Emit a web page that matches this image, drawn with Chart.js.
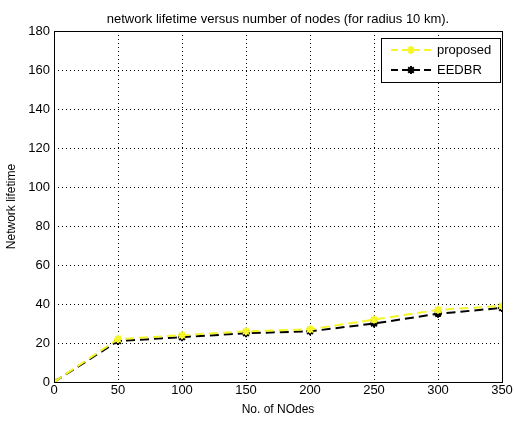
<!DOCTYPE html>
<html>
<head>
<meta charset="utf-8">
<script src="https://cdn.jsdelivr.net/npm/chart.js@4/dist/chart.umd.min.js"></script>
<style>
  html, body { margin: 0; padding: 0; background: #fff; }
  #wrap { width: 514px; height: 421px; }
</style>
</head>
<body>
<div id="wrap"><canvas id="myChart" width="514" height="421"></canvas></div>
<script>
const nodes = [0, 50, 100, 150, 200, 250, 300, 350];
const proposed = [0, 22, 24, 26, 27, 32, 37, 39];
const eedbr = [0, 21, 23, 25, 26, 30, 35, 38];
const xTicks = [0, 50, 100, 150, 200, 250, 300, 350];
const yTicks = [0, 20, 40, 60, 80, 100, 120, 140, 160, 180];
const titleText = 'network lifetime versus number of nodes (for radius 10 km).';
const FONT = '"Liberation Sans", Arial, sans-serif';

// frame, title and in-plot legend like MATLAB
const matlabBits = {
  id: 'matlabBits',
  afterDraw(chart) {
    const {ctx, chartArea: a} = chart;
    ctx.save();
    ctx.strokeStyle = '#000';
    ctx.lineWidth = 1;
    ctx.setLineDash([]);
    ctx.strokeRect(a.left + 0.5, a.top + 0.5, a.right - a.left, a.bottom - a.top);
    ctx.fillStyle = '#000';
    ctx.font = '13px ' + FONT;
    ctx.textAlign = 'center';
    ctx.textBaseline = 'middle';
    ctx.fillText(titleText, (a.left + a.right) / 2, 19);

    // legend box
    const bx = 381, by = 38, bw = 119, bh = 44;
    ctx.fillStyle = '#fff';
    ctx.fillRect(bx, by, bw, bh);
    ctx.strokeRect(bx + 0.5, by + 0.5, bw, bh);
    chart.data.datasets.forEach((ds, i) => {
      const y = by + 12 + i * 20;
      ctx.strokeStyle = ds.borderColor;
      ctx.fillStyle = ds.borderColor;
      ctx.lineWidth = 2;
      ctx.setLineDash([7, 4]);
      ctx.beginPath();
      ctx.moveTo(bx + 10, y);
      ctx.lineTo(bx + 50, y);
      ctx.stroke();
      ctx.setLineDash([]);
      Chart.helpers.drawPoint(ctx, {pointStyle: 'star', radius: 4, rotation: 0, borderWidth: 2}, bx + 30, y);
      ctx.fillStyle = '#000';
      ctx.textAlign = 'left';
      ctx.fillText(ds.label, bx + 56, y);
    });
    ctx.restore();
  }
};

new Chart(document.getElementById('myChart'), {
  type: 'line',
  data: {
    datasets: [
      {
        label: 'proposed',
        data: nodes.map((x, i) => ({x: x, y: proposed[i]})),
        borderColor: '#f5f52a',
        backgroundColor: '#f5f52a',
        borderWidth: 2,
        borderDash: [9, 5],
        pointStyle: 'star',
        pointRadius: 4,
        pointBorderWidth: 2,
        tension: 0
      },
      {
        label: 'EEDBR',
        data: nodes.map((x, i) => ({x: x, y: eedbr[i]})),
        borderColor: '#000',
        backgroundColor: '#000',
        borderWidth: 2,
        borderDash: [9, 5],
        pointStyle: 'star',
        pointRadius: 4,
        pointBorderWidth: 2,
        tension: 0
      }
    ]
  },
  options: {
    responsive: false,
    animation: false,
    layout: {padding: {top: 31, right: 12, left: 0, bottom: 0}},
    plugins: {legend: {display: false}, title: {display: false}, tooltip: {enabled: false}},
    scales: {
      x: {
        type: 'linear',
        min: 0, max: 350,
        afterBuildTicks: s => { s.ticks = xTicks.map(v => ({value: v})); },
        afterFit: s => { s.height = 39; },
        grid: {color: '#000', lineWidth: 1, drawTicks: false},
        border: {display: false, dash: [1, 3]},
        ticks: {color: '#000', font: {family: FONT, size: 13}, padding: 1, maxRotation: 0},
        title: {display: true, text: 'No. of NOdes', color: '#000', font: {family: FONT, size: 12}, padding: {top: 0}}
      },
      y: {
        min: 0, max: 180,
        afterBuildTicks: s => { s.ticks = yTicks.map(v => ({value: v})); },
        afterFit: s => { s.width = 54; },
        grid: {color: '#000', lineWidth: 1, drawTicks: false},
        border: {display: false, dash: [1, 3]},
        ticks: {color: '#000', font: {family: FONT, size: 13}, padding: 4},
        title: {display: true, text: 'Network lifetime', color: '#000', font: {family: FONT, size: 12}, padding: {bottom: 2}}
      }
    }
  },
  plugins: [matlabBits]
});
</script>
</body>
</html>
